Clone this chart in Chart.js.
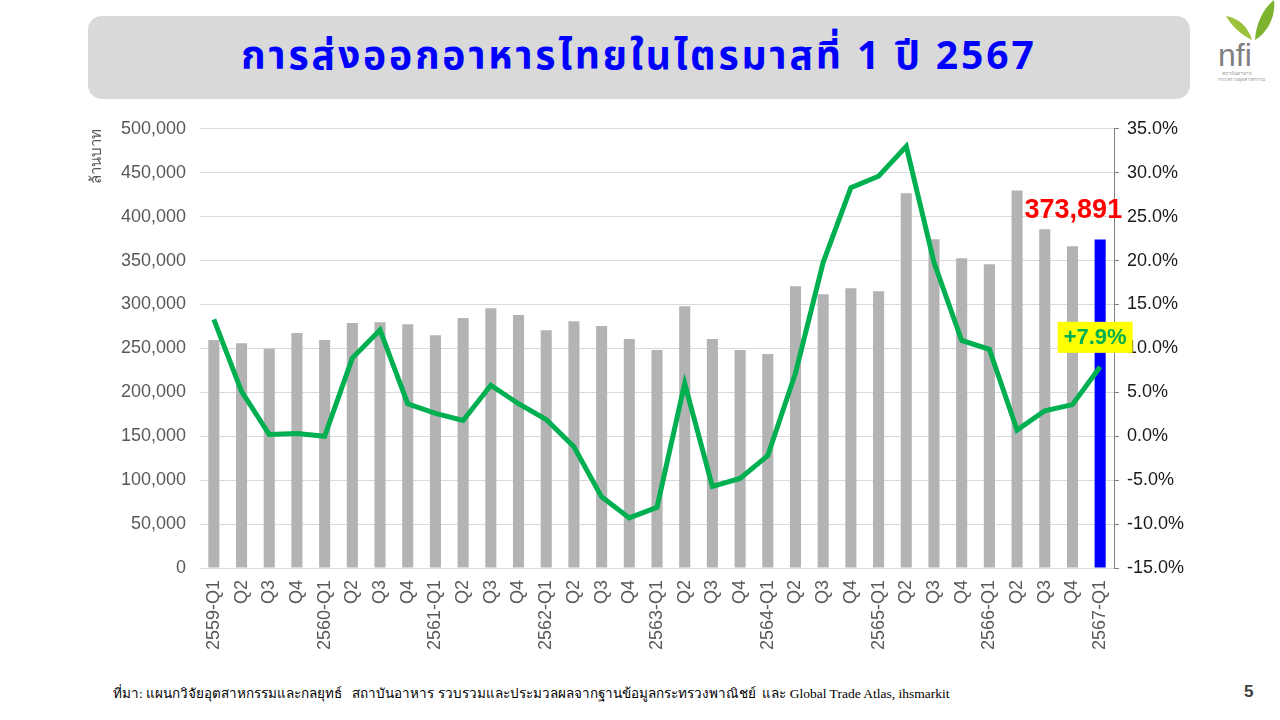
<!DOCTYPE html>
<html>
<head>
<meta charset="utf-8">
<script src="https://cdn.jsdelivr.net/npm/chart.js@4.4.1/dist/chart.umd.min.js"></script>
<style>
  html, body { margin: 0; padding: 0; background: #fff; }
  body { width: 1280px; height: 720px; position: relative; overflow: hidden; font-family: "Liberation Sans", Arial, sans-serif; }
  .title-box {
    position: absolute; left: 88px; top: 16px; width: 1102px; height: 83px;
    background: #d9d9d9; border-radius: 14px;
    display: flex; align-items: center; justify-content: center;
  }
  .title-box h1 {
    margin: 0; color: #0000ff; font-size: 39px; font-weight: bold;
    font-family: "Noto Sans Thai", "Noto Sans", "DejaVu Sans", sans-serif; letter-spacing: 2.9px;
  }
  .chart-wrap { position: absolute; left: 88px; top: 104px; width: 1110px; height: 556px; }
  .source {
    position: absolute; left: 113px; top: 682px; font-size: 13.5px; color: #000;
    font-family: "Liberation Serif", "DejaVu Serif", serif;
  }
  .page { position: absolute; left: 1244px; top: 682px; font-size: 17px; font-weight: bold; color: #404040; }
  .logo { position: absolute; left: 1210px; top: 0px; width: 70px; height: 90px; }
</style>
</head>
<body>
<div class="title-box"><h1>การส่งออกอาหารไทยในไตรมาสที่ 1 ปี 2567</h1></div>

<svg class="logo" viewBox="0 0 70 90">
  <path d="M42 40 C38 26 28 18 16 16 C22 26 30 34 42 40 Z" fill="#9bc23c"/>
  <path d="M45 40 C46 22 54 8 64 0 C66 16 58 32 45 40 Z" fill="#7db32f"/>
  <text x="8" y="66" font-family="Liberation Sans, Arial, sans-serif" font-size="32" fill="#808080">nfi</text>
  <text x="12" y="75" font-size="5" fill="#999">สถาบันอาหาร</text>
  <text x="8" y="81" font-size="5" fill="#999">กระทรวงอุตสาหกรรม</text>
</svg>

<div class="chart-wrap"><canvas id="exportChart"></canvas></div>

<div class="source">ที่มา: แผนกวิจัยอุตสาหกรรมและกลยุทธ์ &nbsp; สถาบันอาหาร รวบรวมและประมวลผลจากฐานข้อมูลกระทรวงพาณิชย์ &nbsp;และ Global Trade Atlas, ihsmarkit</div>
<div class="page">5</div>

<script>
// ไตรมาส 2559-Q1 ถึง 2567-Q1
const quarters = [
  '2559-Q1', 'Q2', 'Q3', 'Q4',
  '2560-Q1', 'Q2', 'Q3', 'Q4',
  '2561-Q1', 'Q2', 'Q3', 'Q4',
  '2562-Q1', 'Q2', 'Q3', 'Q4',
  '2563-Q1', 'Q2', 'Q3', 'Q4',
  '2564-Q1', 'Q2', 'Q3', 'Q4',
  '2565-Q1', 'Q2', 'Q3', 'Q4',
  '2566-Q1', 'Q2', 'Q3', 'Q4',
  '2567-Q1'
];

// มูลค่าส่งออก (ล้านบาท)
const exportValue = [
  259500, 256000, 249600, 267400,
  259500, 278800, 279900, 277600,
  265100, 284500, 295800, 287900,
  270800, 281000, 275400, 260600,
  248100, 298100, 260600, 248100,
  243600, 320800, 311700, 318600,
  315200, 426500, 374200, 352600,
  345800, 429900, 385600, 366300,
  373891
];

// อัตราการเติบโต (%YoY)
const growthPct = [
  13.3, 5.1, 0.2, 0.3,
  0.0, 8.9, 12.1, 3.7,
  2.6, 1.8, 5.8, 3.7,
  1.9, -1.2, -6.9, -9.3,
  -8.1, 6.0, -5.7, -4.8,
  -2.2, 7.2, 19.8, 28.3,
  29.6, 33.0, 19.8, 10.9,
  9.9, 0.7, 2.9, 3.6,
  7.9
];

const leftTicks = { min: 0, max: 500000, step: 50000 };
const rightTicks = { min: -15, max: 35, step: 5 };

const barColors = exportValue.map((v, i) => i === exportValue.length - 1 ? '#0000ff' : '#b3b3b3');

// ป้ายค่าไตรมาสล่าสุด + ชื่อแกน
const lastLabels = {
  id: 'lastLabels',
  afterDatasetsDraw(chart) {
    const ctx = chart.ctx;
    const last = exportValue.length - 1;
    const bar = chart.getDatasetMeta(0).data[last];
    const pt = chart.getDatasetMeta(1).data[last];

    ctx.save();
    // มูลค่า
    ctx.font = 'bold 27px "Liberation Sans", Arial, sans-serif';
    ctx.fillStyle = '#ff0000';
    ctx.textAlign = 'right';
    ctx.textBaseline = 'middle';
    ctx.fillText(exportValue[last].toLocaleString('en-US'), bar.x + 22, bar.y - 29);

    // อัตราเติบโต
    const txt = '+' + growthPct[last].toFixed(1) + '%';
    ctx.font = 'bold 22px "Liberation Sans", Arial, sans-serif';
    const w = ctx.measureText(txt).width + 12;
    const cx = pt.x - 5, cy = pt.y - 30;
    ctx.fillStyle = '#ffff00';
    ctx.fillRect(cx - w / 2, cy - 15, w, 31);
    ctx.fillStyle = '#00b050';
    ctx.textAlign = 'center';
    ctx.fillText(txt, cx, cy + 1);

    // ชื่อแกน
    const y = chart.scales.y;
    ctx.translate(9, y.top);
    ctx.rotate(-Math.PI / 2);
    ctx.font = '15px "Liberation Sans", Arial, sans-serif';
    ctx.fillStyle = '#595959';
    ctx.textAlign = 'right';
    ctx.textBaseline = 'middle';
    ctx.fillText('ล้านบาท', 0, 0);
    ctx.restore();
  }
};

new Chart(document.getElementById('exportChart'), {
  type: 'bar',
  data: {
    labels: quarters,
    datasets: [
      {
        label: 'มูลค่าส่งออก',
        data: exportValue,
        yAxisID: 'y',
        backgroundColor: barColors,
        barPercentage: 0.4,
        categoryPercentage: 1,
        order: 1
      },
      {
        type: 'line',
        label: 'อัตราการเติบโต',
        data: growthPct,
        yAxisID: 'y1',
        borderColor: '#00b050',
        borderWidth: 5,
        pointRadius: 0,
        tension: 0,
        order: 0
      }
    ]
  },
  options: {
    responsive: true,
    maintainAspectRatio: false,
    animation: false,
    layout: { padding: { top: 12, right: 0, left: 0, bottom: 0 } },
    plugins: { legend: { display: false }, tooltip: { enabled: false } },
    scales: {
      x: {
        grid: { display: false },
        border: { display: false },
        ticks: {
          autoSkip: false, minRotation: 90, maxRotation: 90,
          color: '#595959', padding: 4,
          font: { size: 18, family: '"Liberation Sans", Arial, sans-serif' }
        },
        afterFit(scale) { scale.height = 92; }
      },
      y: {
        position: 'left',
        min: leftTicks.min, max: leftTicks.max,
        ticks: {
          stepSize: leftTicks.step, color: '#595959', padding: 14,
          font: { size: 18, family: '"Liberation Sans", Arial, sans-serif' },
          callback: v => v.toLocaleString('en-US')
        },
        grid: { color: '#d9d9d9', lineWidth: 1, drawTicks: false },
        border: { display: false },
        afterFit(scale) { scale.width = 112; }
      },
      y1: {
        position: 'right',
        min: rightTicks.min, max: rightTicks.max,
        ticks: {
          stepSize: rightTicks.step, color: '#1a1a1a', padding: 8,
          font: { size: 18, family: '"Liberation Sans", Arial, sans-serif' },
          callback: v => v.toFixed(1) + '%'
        },
        grid: { drawOnChartArea: false, drawTicks: true, tickLength: 5, color: '#808080' },
        border: { display: true, color: '#808080', width: 1 },
        afterFit(scale) { scale.width = 84; }
      }
    }
  },
  plugins: [lastLabels]
});
</script>
</body>
</html>
